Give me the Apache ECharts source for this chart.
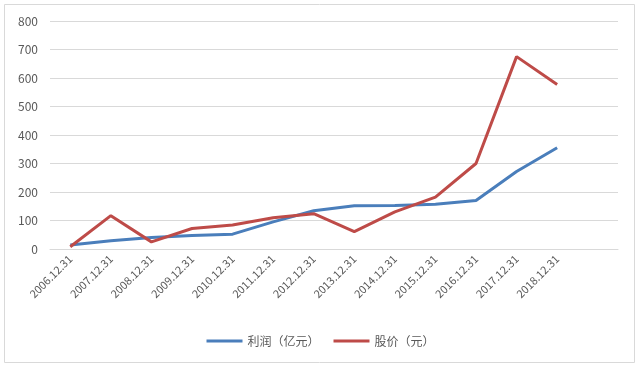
<!DOCTYPE html>
<html><head><meta charset="utf-8">
<script src="https://cdn.jsdelivr.net/npm/echarts@6/dist/echarts.min.js"></script>
<style>html,body{margin:0;padding:0;background:#fff}#c{width:641px;height:368px}</style>
</head><body><div id="c"></div>
<script>
const categories = ['2006.12.31','2007.12.31','2008.12.31','2009.12.31','2010.12.31','2011.12.31','2012.12.31','2013.12.31','2014.12.31','2015.12.31','2016.12.31','2017.12.31','2018.12.31',''];
const profit = [14,29,40,47,52,95,134,152,153,157,170,272,355];
const price = [8,117,25,72,84,110,124,61,130,182,300,675,577];
const yTicks = [0,100,200,300,400,500,600,700,800];

const chart = echarts.init(document.getElementById('c'));
chart.setOption({
  animation:false,
  textStyle:{fontFamily:'"Noto Sans CJK SC", sans-serif'},
  graphic:[{type:'rect',shape:{x:4.5,y:4.5,width:630,height:358},style:{fill:'none',stroke:'#d9d9d9',lineWidth:1},silent:true}],
  grid:{left:50,right:23,top:21,bottom:119},
  legend:{bottom:16,left:'center',itemWidth:36,itemHeight:3,itemGap:14,icon:'rect',
    textStyle:{color:'#595959',fontSize:12},
    data:['利润（亿元）','股价（元）']},
  xAxis:{type:'category',data:categories,boundaryGap:true,
    axisLine:{lineStyle:{color:'#d9d9d9'}},axisTick:{show:false},
    axisLabel:{rotate:45,color:'#595959',fontSize:11,interval:0,margin:8}},
  yAxis:{type:'value',min:yTicks[0],max:yTicks[yTicks.length-1],interval:100,
    axisLine:{show:false},axisTick:{show:false},
    axisLabel:{color:'#595959',fontSize:12,margin:12},
    splitLine:{lineStyle:{color:'#d9d9d9'}}},
  series:[
    {name:'利润（亿元）',type:'line',data:profit,symbol:'none',lineStyle:{width:3,color:'#4a7ebb'},itemStyle:{color:'#4a7ebb'}},
    {name:'股价（元）',type:'line',data:price,symbol:'none',lineStyle:{width:3,color:'#be4b48'},itemStyle:{color:'#be4b48'}}
  ]
});
</script></body></html>
